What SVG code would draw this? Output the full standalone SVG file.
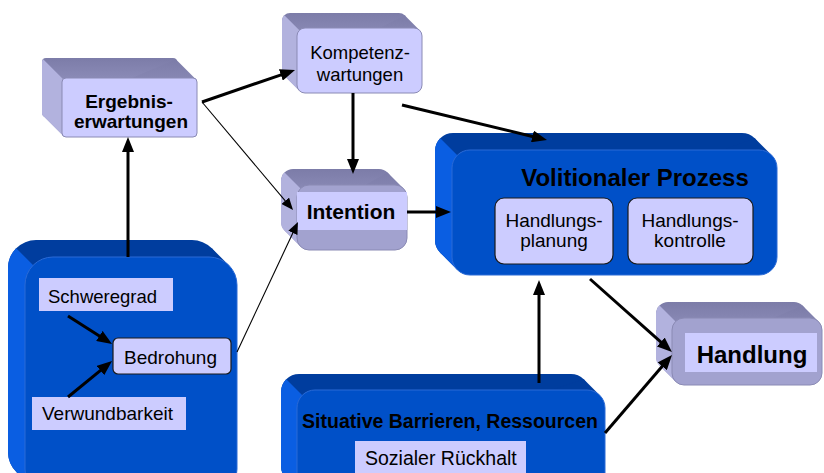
<svg xmlns="http://www.w3.org/2000/svg" width="824" height="473" viewBox="0 0 824 473">
<defs>
<linearGradient id="lavTop" x1="0" y1="0" x2="0" y2="1">
<stop offset="0" stop-color="#7c7ca8"/>
<stop offset="1" stop-color="#a6a6d2"/>
</linearGradient>
<marker id="ah" markerUnits="userSpaceOnUse" markerWidth="16" markerHeight="12" refX="1" refY="6" orient="auto">
<path d="M0,0 L15,6 L0,12 Z" fill="#000"/>
</marker>
<marker id="ahs" markerUnits="userSpaceOnUse" markerWidth="13" markerHeight="10" refX="1" refY="5" orient="auto">
<path d="M0,0 L12,5 L0,10 Z" fill="#000"/>
</marker>
</defs>
<style>
.ltop{fill:url(#lavTop);}
.lleft{fill:#b2b2de;}
.lfront{fill:#ccccff;stroke:#8a8ab4;stroke-width:1;}
.lfront2{fill:#a2a2cf;stroke:#8a8ab4;stroke-width:1;}
.band{fill:#ccccff;}
.btop{fill:#003d9e;}
.bleft{fill:#0a5ee2;}
.bfront{fill:#0050c8;stroke:#2a6ad6;stroke-width:1;}
.inner{fill:#ccccff;stroke:#1a1a1a;stroke-width:1.2;}
.tag{fill:#ccccff;}
.t{font-family:"Liberation Sans",Arial,sans-serif;fill:#000;}
.b{font-weight:bold;}
.c{text-anchor:middle;}
.thick{stroke:#000;stroke-width:3;fill:none;marker-end:url(#ah);}
.thin{stroke:#000;stroke-width:1.1;fill:none;marker-end:url(#ahs);}
</style>
<rect width="824" height="473" fill="#fff"/>

<g id="ergebnis">
<rect class="ltop" x="42" y="58" width="135" height="59" rx="4"/>
<polygon class="ltop" points="195.83,79.17 175.83,59.17 43.17,115.83 63.17,135.83"/>
<path class="lleft" d="M43.17,59.17 L63.17,79.17 L63.17,135.83 L43.17,115.83 A4,4 0 0 1 42,113 L42,62 A4,4 0 0 1 43.17,59.17 Z"/>
<rect class="lfront" x="62" y="78" width="135" height="59" rx="4"/>
<text class="t b c" x="129" y="108" font-size="19">Ergebnis-</text>
<text class="t b c" x="131" y="128" font-size="19">erwartungen</text>
</g>

<g id="kompetenz">
<rect class="ltop" x="282" y="13" width="125" height="65" rx="8"/>
<polygon class="ltop" points="419.66,30.34 404.66,15.34 284.34,75.66 299.34,90.66"/>
<path class="lleft" d="M284.34,15.34 L299.34,30.34 L299.34,90.66 L284.34,75.66 A8,8 0 0 1 282,70 L282,21 A8,8 0 0 1 284.34,15.34 Z"/>
<rect class="lfront" x="297" y="28" width="125" height="65" rx="8"/>
<text class="t c" x="360" y="59" font-size="18.5">Kompetenz-</text>
<text class="t c" x="360" y="81" font-size="18.5">wartungen</text>
</g>

<g id="intention">
<rect class="ltop" x="281" y="169" width="110" height="65" rx="12"/>
<polygon class="ltop" points="403.49,188.51 387.49,172.51 284.51,230.49 300.51,246.49"/>
<path class="lleft" d="M284.51,172.51 L300.51,188.51 L300.51,246.49 L284.51,230.49 A12,12 0 0 1 281,222 L281,181 A12,12 0 0 1 284.51,172.51 Z"/>
<rect class="lfront2" x="297" y="185" width="110" height="65" rx="12"/>
<rect class="band" x="297" y="192" width="110" height="38"/>
<text class="t b c" x="351" y="219" font-size="21">Intention</text>
</g>

<g id="handlung">
<rect class="ltop" x="656" y="302" width="150" height="67" rx="12"/>
<polygon class="ltop" points="818.49,321.51 802.49,305.51 659.51,365.49 675.51,381.49"/>
<path class="lleft" d="M659.51,305.51 L675.51,321.51 L675.51,381.49 L659.51,365.49 A12,12 0 0 1 656,357 L656,314 A12,12 0 0 1 659.51,305.51 Z"/>
<rect class="lfront2" x="672" y="318" width="150" height="67" rx="12"/>
<rect class="band" x="685" y="333" width="132" height="39"/>
<text class="t b c" x="752" y="363" font-size="24">Handlung</text>
</g>

<g id="volitional">
<rect class="btop" x="435" y="133" width="325" height="125" rx="18"/>
<polygon class="btop" points="771.73,155.27 754.73,138.27 440.27,252.73 457.27,269.73"/>
<path class="bleft" d="M440.27,138.27 L457.27,155.27 L457.27,269.73 L440.27,252.73 A18,18 0 0 1 435,240 L435,151 A18,18 0 0 1 440.27,138.27 Z"/>
<rect class="bfront" x="452" y="150" width="325" height="125" rx="18"/>
<text class="t b c" x="635" y="186" font-size="24">Volitionaler Prozess</text>
</g>

<g id="planung">
<rect class="inner" x="495" y="198" width="118" height="66" rx="9"/>
<text class="t c" x="554" y="227" font-size="19">Handlungs-</text>
<text class="t c" x="554" y="247" font-size="19">planung</text>
</g>

<g id="kontrolle">
<rect class="inner" x="628" y="198" width="125" height="66" rx="9"/>
<text class="t c" x="690" y="227" font-size="19">Handlungs-</text>
<text class="t c" x="690" y="247" font-size="19">kontrolle</text>
</g>

<g id="bedrohungsgruppe">
<rect class="btop" x="8" y="240" width="212" height="240" rx="28"/>
<polygon class="btop" points="228.8,265.2 211.8,248.2 16.2,471.8 33.2,488.8"/>
<path class="bleft" d="M16.2,248.2 L33.2,265.2 L33.2,488.8 L16.2,471.8 A28,28 0 0 1 8,452 L8,268 A28,28 0 0 1 16.2,248.2 Z"/>
<rect class="bfront" x="25" y="257" width="212" height="240" rx="28"/>
</g>

<g id="schweregrad">
<rect class="tag" x="39" y="278" width="134" height="33"/>
<text class="t" x="48" y="303" font-size="18.5">Schweregrad</text>
</g>

<g id="bedrohung">
<rect class="inner" x="113" y="338" width="118" height="36" rx="5"/>
<text class="t" x="124" y="364" font-size="19">Bedrohung</text>
</g>

<g id="verwundbarkeit">
<rect class="tag" x="32" y="397" width="154" height="33"/>
<text class="t" x="42" y="420" font-size="19">Verwundbarkeit</text>
</g>

<g id="situative">
<rect class="btop" x="281" y="374" width="308" height="110" rx="18"/>
<polygon class="btop" points="599.73,395.27 583.73,379.27 286.27,478.73 302.27,494.73"/>
<path class="bleft" d="M286.27,379.27 L302.27,395.27 L302.27,494.73 L286.27,478.73 A18,18 0 0 1 281,466 L281,392 A18,18 0 0 1 286.27,379.27 Z"/>
<rect class="bfront" x="297" y="390" width="308" height="110" rx="18"/>
<text class="t b c" x="450" y="428" font-size="19.5">Situative Barrieren, Ressourcen</text>
</g>

<g id="rueckhalt">
<rect class="tag" x="355" y="441" width="171" height="40"/>
<text class="t" x="365" y="465" font-size="19.5">Sozialer Rückhalt</text>
</g>

<g id="connectors">
<line class="thick" x1="128" y1="257" x2="128" y2="151"/>
<line class="thick" x1="202" y1="102" x2="281.8" y2="74.6"/>
<line class="thin" x1="202" y1="102" x2="285.9" y2="201.6"/>
<line class="thick" x1="353" y1="93" x2="353" y2="160"/>
<line class="thick" x1="402" y1="105" x2="533.4" y2="136.7"/>
<line class="thick" x1="407" y1="212" x2="437" y2="212"/>
<line class="thin" x1="237" y1="352" x2="293.3" y2="232"/>
<line class="thick" x1="539" y1="383" x2="539" y2="294"/>
<line class="thick" x1="590" y1="279" x2="661.5" y2="342.7"/>
<line class="thick" x1="605" y1="433" x2="662.9" y2="365.6"/>
<line class="thick" x1="68" y1="316" x2="100.2" y2="336.5"/>
<line class="thick" x1="68" y1="397" x2="101.2" y2="369.9"/>
</g>
</svg>
